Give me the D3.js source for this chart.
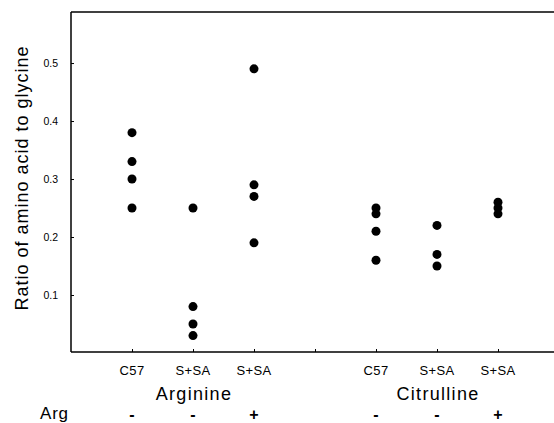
<!doctype html>
<html>
<head>
<meta charset="utf-8">
<script src="https://d3js.org/d3.v7.min.js"></script>
<style>
  body { margin: 0; background: #fff; }
  text { font-family: "Liberation Sans", Arial, sans-serif; fill: #000; }
</style>
</head>
<body>
<svg id="chart" width="554" height="423"></svg>
<script>
// groups along x (position 1..7, position 4 is the gap)
const groupPos = [1, 2, 3, 5, 6, 7];
const groupLabels = ["C57", "S+SA", "S+SA", "C57", "S+SA", "S+SA"];
const argLabels = ["-", "-", "+", "-", "-", "+"];
const aminoLabels = ["Arginine", "Citrulline"];
const aminoPos = [2, 6];

// ratio values per group
const argC57 = [0.38, 0.33, 0.30, 0.25];
const argSSA = [0.25, 0.08, 0.05, 0.03];
const argSSAArg = [0.49, 0.29, 0.27, 0.19];
const citC57 = [0.25, 0.24, 0.21, 0.16];
const citSSA = [0.22, 0.17, 0.15];
const citSSAArg = [0.26, 0.25, 0.24];

const yTicks = [0.1, 0.2, 0.3, 0.4, 0.5];

const seriesValues = [argC57, argSSA, argSSAArg, citC57, citSSA, citSSAArg];
const points = [];
seriesValues.forEach((vals, i) => vals.forEach(v => points.push({ x: groupPos[i], y: v })));

const svg = d3.select("#chart");
const mLeft = 71, mTop = 12, mBottom = 353;

const x = d3.scaleLinear().domain([0, 8]).range([mLeft, mLeft + 8 * 61]);
const y = d3.scaleLinear().domain([0, 0.588]).range([mBottom, mTop]);

// frame: top and bottom lines run to the right edge, left line
svg.append("line").attr("x1", mLeft).attr("x2", 554).attr("y1", mTop).attr("y2", mTop)
  .attr("stroke", "#000").attr("stroke-width", 1.5);
svg.append("line").attr("x1", mLeft).attr("x2", 554).attr("y1", mBottom - 1).attr("y2", mBottom - 1)
  .attr("stroke", "#000").attr("stroke-width", 1.5);
svg.append("line").attr("x1", mLeft).attr("x2", mLeft).attr("y1", mTop).attr("y2", mBottom - 1)
  .attr("stroke", "#000").attr("stroke-width", 1.5);

// y axis ticks (inward) and labels
const yAxis = svg.append("g").attr("transform", `translate(${mLeft},0)`)
  .call(d3.axisRight(y).tickValues(yTicks).tickSize(3).tickFormat(d3.format(".1f")));
yAxis.select(".domain").remove();
yAxis.selectAll("line").attr("stroke", "#000");
yAxis.selectAll("text").attr("x", -13).attr("text-anchor", "end")
  .attr("font-size", 10.5).attr("dy", "0.35em");

// x axis ticks (inward)
const xAxis = svg.append("g").attr("transform", `translate(0,${mBottom - 1})`)
  .call(d3.axisTop(x).tickValues([1, 2, 3, 4, 5, 6, 7]).tickSize(3).tickFormat(""));
xAxis.select(".domain").remove();
xAxis.selectAll("line").attr("stroke", "#000");

// group labels
svg.append("g").selectAll("text").data(groupLabels).join("text")
  .attr("x", (d, i) => x(groupPos[i])).attr("y", 375)
  .attr("text-anchor", "middle").attr("font-size", 13).attr("letter-spacing", 0.4).text(d => d);

svg.append("g").selectAll("text").data(aminoLabels).join("text")
  .attr("x", (d, i) => x(aminoPos[i]) + 1).attr("y", 400)
  .attr("text-anchor", "middle").attr("font-size", 18).attr("letter-spacing", 1.3).text(d => d);

svg.append("text").attr("x", 40).attr("y", 419).attr("font-size", 17).attr("letter-spacing", 0.8).text("Arg");
svg.append("g").selectAll("text").data(argLabels).join("text")
  .attr("x", (d, i) => x(groupPos[i])).attr("y", 420)
  .attr("text-anchor", "middle").attr("font-size", 16).attr("font-weight", "bold").text(d => d);

// y label
svg.append("text").attr("transform", `translate(28,178) rotate(-90)`)
  .attr("text-anchor", "middle").attr("font-size", 18).attr("letter-spacing", 1)
  .text("Ratio of amino acid to glycine");

// points
svg.append("g").selectAll("circle").data(points).join("circle")
  .attr("cx", d => x(d.x)).attr("cy", d => y(d.y)).attr("r", 4.5).attr("fill", "#000");
</script>
</body>
</html>
